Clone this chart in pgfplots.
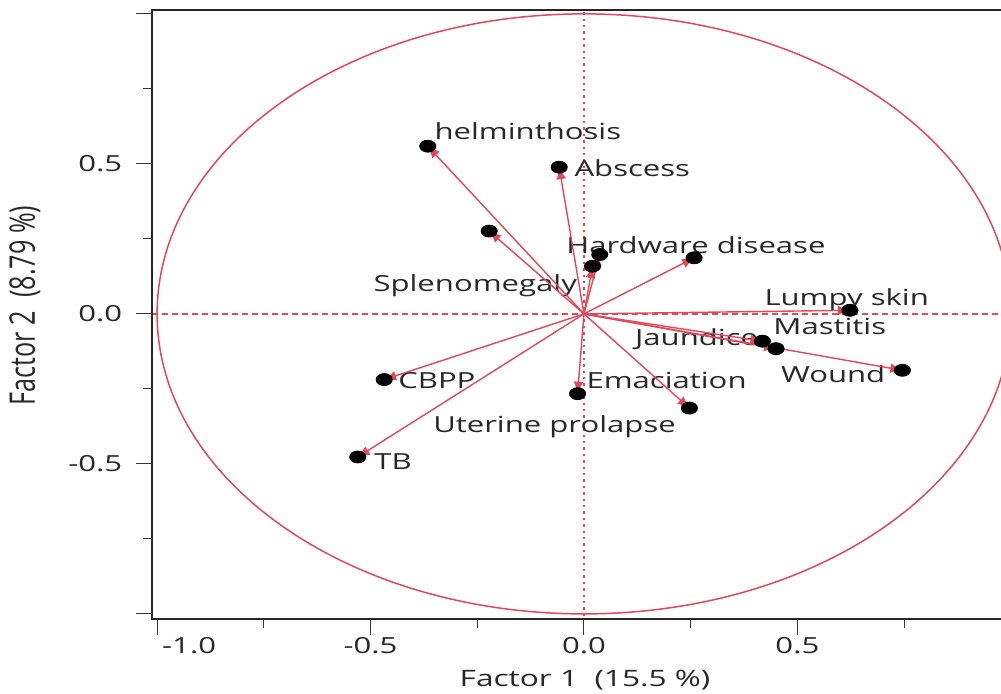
\documentclass[border=0pt]{standalone}
\usepackage{fontspec}
\setmainfont{Open Sans}[FakeStretch=1.4]
\newfontfamily\yfont{Open Sans}
\usepackage{pgfplots}
\pgfplotsset{compat=1.18}
\usetikzlibrary{arrows.meta}
\definecolor{pcared}{RGB}{226,71,90}
\definecolor{txt}{RGB}{40,40,40}
\pgfplotstableread{
x y u v
0 0 -0.366 0.559
0 0 -0.058 0.489
0 0 -0.222 0.276
0 0 0.037 0.198
0 0 0.020 0.159
0 0 0.258 0.187
0 0 0.623 0.012
0 0 0.418 -0.091
0 0 0.450 -0.116
0 0 0.746 -0.188
0 0 -0.015 -0.266
0 0 0.247 -0.314
0 0 -0.468 -0.219
0 0 -0.530 -0.477
}\loadings
\begin{document}
\fontsize{11.1}{13}\selectfont
\begin{tikzpicture}
\begin{axis}[
  name=ax,
  scale only axis,
  width=424.5pt, height=304.5pt,
  xmin=-1.012, xmax=0.977,
  ymin=-1.017, ymax=1.013,
  axis line style={draw=none},
  tick pos=left,
  tick align=outside,
  major tick length=8pt,
  minor tick length=4.5pt,
  tick style={black!80, line width=0.5pt},
  xtick={-0.5,0,0.5},
  xticklabels={-0.5,0.0,0.5},
  extra x ticks={-1},
  extra x tick labels={-1.0},
  extra x tick style={xticklabel style={xshift=16pt}},
  minor xtick={-0.75,-0.25,0.25,0.75},
  ytick={-1,-0.5,0,0.5,1},
  yticklabels={{},-0.5,0.0,0.5,{}},
  minor ytick={-0.75,-0.25,0.25,0.75},
  /pgf/number format/assume math mode=true,
  tick label style={font=\fontsize{11.1}{13}\selectfont, text=txt},
  xticklabel style={yshift=2.5pt},
  yticklabel style={xshift=-3pt},
  xlabel={Factor 1\ \ (15.5 \%)},
  ylabel={\scalebox{1}[1.4]{\yfont\fontsize{12.6}{14}\selectfont Factor 2\ \ (8.79 \%)}},
  xlabel style={at={(axis description cs:0.51,0)}, anchor=center, yshift=-30.5pt, text=txt, font=\fontsize{11.3}{13}\selectfont},
  ylabel style={at={([xshift=-63.5pt]axis description cs:0,0.515)}, anchor=center, rotate=0, text=txt},
]
% reference lines and unit circle
\draw[pcared, line width=0.8pt, dash pattern=on 3pt off 2pt] (axis cs:-1.2,0) -- (axis cs:1.2,0);
\draw[pcared, line width=0.8pt, dash pattern=on 1.2pt off 2pt] (axis cs:0,-1.2) -- (axis cs:0,1.2);
\draw[pcared, line width=0.75pt] (axis cs:0,0) ellipse [x radius=1, y radius=1];
% labels
\begin{scope}[every node/.style={anchor=west, inner sep=0pt, text=txt}]
\node at (axis cs:-0.351,0.608) {helminthosis};
\node at (axis cs:-0.023,0.485) {Abscess};
\node at (axis cs:-0.042,0.228) {Hardware disease};
\node at (axis cs:-0.494,0.095) {Splenomegaly};
\node at (axis cs:0.422,0.048) {Lumpy skin};
\node at (axis cs:0.443,-0.042) {Mastitis};
\node at (axis cs:0.119,-0.085) {Jaundice};
\node at (axis cs:0.461,-0.202) {Wound};
\node at (axis cs:0.005,-0.222) {Emaciation};
\node at (axis cs:-0.436,-0.222) {CBPP};
\node at (axis cs:-0.354,-0.375) {Uterine prolapse};
\node at (axis cs:-0.492,-0.492) {TB};
\end{scope}
% loading vectors
\addplot[pcared, line width=0.7pt, -{Latex[length=6pt,width=5pt]},
  quiver={u=\thisrow{u}, v=\thisrow{v}}] table[x=x, y=y] {\loadings};
\addplot[only marks, mark=*, mark size=3pt,
  mark options={xscale=1.35, fill=black, draw=black}] table[x=u, y=v] {\loadings};
\end{axis}
\draw[line width=1.2pt, black!85] (ax.south east) -- (ax.south west) -- (ax.north west) -- (ax.north east);
\pgfresetboundingbox
\path[use as bounding box] ([xshift=-76pt, yshift=-37.5pt]ax.south west) rectangle ([yshift=5pt]ax.north east);
\end{tikzpicture}
\end{document}
